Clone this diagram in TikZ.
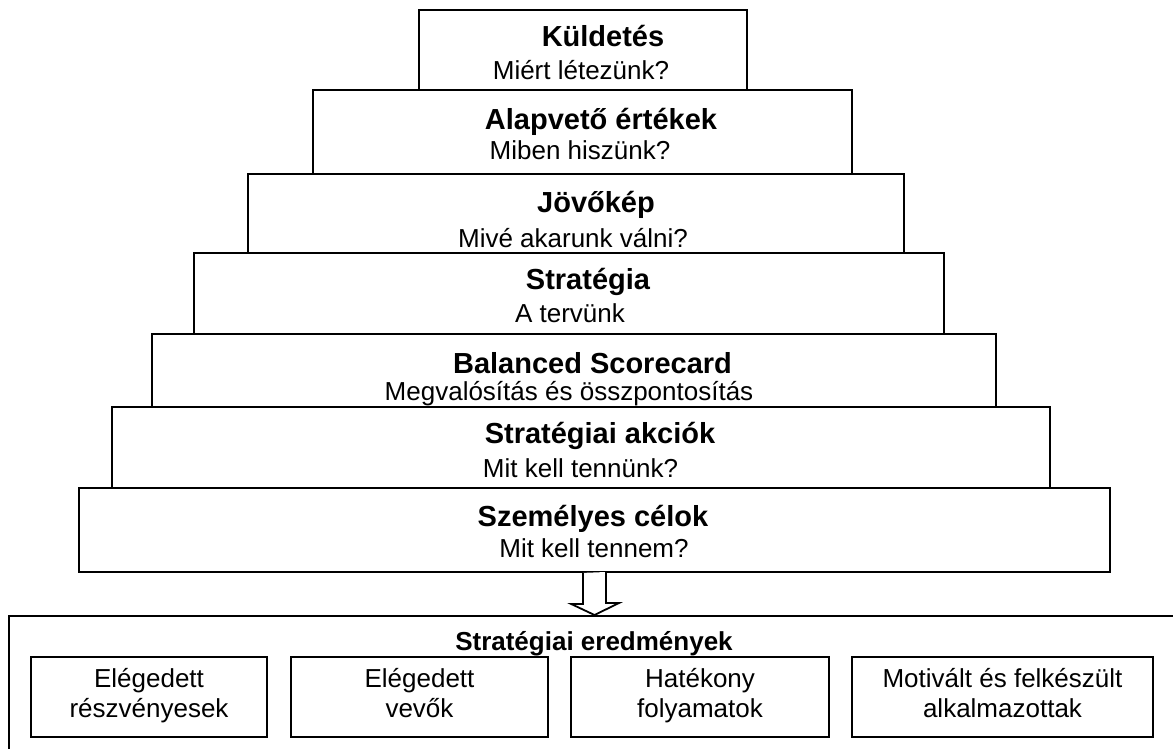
\documentclass[tikz,border=0pt]{standalone}
\usepackage{fontspec}
\setmainfont{Liberation Sans}
\tikzset{
  level/.style={draw,line width=0.9pt},
  cim/.style={font=\bfseries\fontsize{14.5}{17}\selectfont,anchor=base,inner sep=0pt},
  kerdes/.style={font=\fontsize{13}{15}\selectfont,anchor=base,inner sep=0pt},
  cel/.style={draw,line width=0.9pt,align=center,minimum height=40pt,inner ysep=1pt,
    font=\fontsize{13}{15}\selectfont,
    execute at begin node={\rule{0pt}{17.5pt}},execute at end node={\strut}},
}
\begin{document}
\begin{tikzpicture}[x=0.5pt,y=-0.5pt]
    \useasboundingbox (0,0) rectangle (1173,749);
    \clip (0,0) rectangle (1173,749);

    \node[level,minimum width=164pt,minimum height=40pt] (kuldetes) at (583,50) {};
    \node[level,minimum width=269.5pt,minimum height=42pt] (ertekek) at (582.5,132) {};
    \node[level,minimum width=328pt,minimum height=39.5pt] (jovokep) at (576,213.5) {};
    \node[level,minimum width=375pt,minimum height=40.5pt] (strategia) at (569,293.5) {};
    \node[level,minimum width=422pt,minimum height=36.5pt] (bsc) at (574,370.5) {};
    \node[level,minimum width=469pt,minimum height=40.5pt] (akciok) at (581,447.5) {};
    \node[level,minimum width=515.5pt,minimum height=42pt] (szemelyes) at (594.5,530) {};

    \node[cim] (kuldetesT) at (603,47) {Küldetés};
    \node[kerdes] (kuldetesK) at (581,80) {Miért létezünk?};
    \node[cim] (ertekekT) at (601,130) {Alapvető értékek};
    \node[kerdes] (ertekekK) at (580,160) {Miben hiszünk?};
    \node[cim] (jovokepT) at (596,213) {Jövőkép};
    \node[kerdes] (jovokepK) at (573,247) {Mivé akarunk válni?};
    \node[cim] (strategiaT) at (588,289) {Stratégia};
    \node[kerdes] (strategiaK) at (570,322) {A tervünk};
    \node[cim] (bscT) at (592.5,373) {Balanced Scorecard};
    \node[kerdes] (bscK) at (569,400) {Megvalósítás és összpontosítás};
    \node[cim] (akciokT) at (600,443) {Stratégiai akciók};
    \node[kerdes] (akciokK) at (580.5,477) {Mit kell tennünk?};
    \node[cim] (szemelyesT) at (593,526) {Személyes célok};
    \node[kerdes] (szemelyesK) at (594,557) {Mit kell tennem?};

    % eredmenyek
    \node[level,anchor=north west,minimum width=600pt,minimum height=80pt] (eredmenyek) at (8,615) {};
    \draw[level,fill=white] ([xshift=-5.75pt]szemelyes.south) -- ++(0,31) -- ++(-12,0)
        -- (szemelyes.south |- eredmenyek.north) -- ++(24.5,-12) -- ++(-13,0) -- ++(0,-31);
    \node[cim,font=\bfseries\fontsize{13}{15}\selectfont] (eredmenyekT) at (594,650) {Stratégiai eredmények};

    \node[cel,minimum width=118pt] (reszvenyesek) at (149,697) {Elégedett\\részvényesek};
    \node[cel,minimum width=128.5pt] (vevok) at (419.5,697) {Elégedett\\vevők};
    \node[cel,minimum width=129pt] (folyamatok) at (700,697) {Hatékony\\folyamatok};
    \node[cel,minimum width=150.5pt] (alkalmazottak) at (1002.5,697) {Motivált és felkészült\\alkalmazottak};
\end{tikzpicture}
\end{document}
